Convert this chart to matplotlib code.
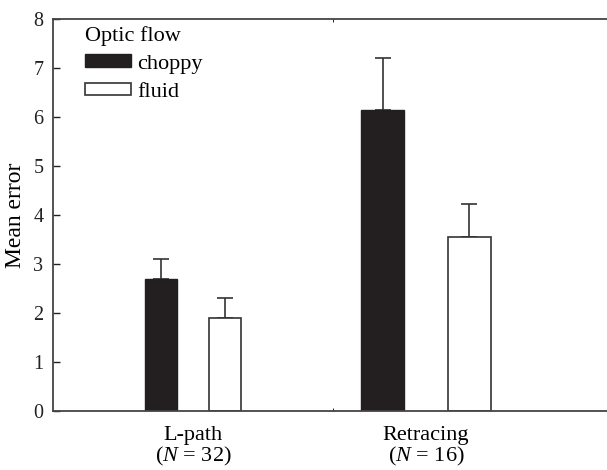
"""Mean error by task and optic flow condition (grouped bars, upper error bars)."""

import matplotlib
matplotlib.use("Agg")
import matplotlib.pyplot as plt
import numpy as np

# Data
groups = ["L-path", "Retracing"]
group_n = [32, 16]
conditions = ["choppy", "fluid"]
choppy_mean = [2.69, 6.14]
choppy_err = [0.41, 1.06]
fluid_mean = [1.89, 3.56]
fluid_err = [0.42, 0.66]

# bars in the original are drawn narrower for the first group
bar_widths = [0.137, 0.185]

plt.rcParams["font.family"] = ["Liberation Serif", "DejaVu Serif"]
plt.rcParams["mathtext.fontset"] = "custom"
plt.rcParams["mathtext.it"] = "Liberation Serif:italic"
plt.rcParams["mathtext.rm"] = "Liberation Serif"

W, H = 607, 470
fig = plt.figure(figsize=(W / 100, H / 100), dpi=100)
ax = fig.add_axes([53 / W, (H - 411) / H, (W - 53) / W, 392 / H])

bar_color = "#231f20"
line_color = "#333333"
x = np.arange(len(groups))
widths = np.array(bar_widths)

ax.bar(x - widths, choppy_mean, width=widths, color=bar_color,
       edgecolor=bar_color, linewidth=1.0, label=conditions[0], zorder=2)
ax.bar(x + widths, fluid_mean, width=widths, color="white",
       edgecolor=line_color, linewidth=1.2, label=conditions[1], zorder=2)

err_kw = dict(fmt="none", ecolor=line_color, elinewidth=1.2, capsize=6,
              capthick=1.2, zorder=1)
ax.errorbar(x - widths, choppy_mean, yerr=[np.zeros(2), choppy_err], **err_kw)
ax.errorbar(x + widths, fluid_mean, yerr=[np.zeros(2), fluid_err], **err_kw)

ax.set_xlim(-0.601, 1.777)
ax.set_ylim(0, 8)
ax.set_yticks(range(0, 9))
ax.tick_params(axis="y", direction="in", length=5, width=1, labelsize=14.5,
               pad=7, colors="#222222")
ax.set_xticks(x)
ax.set_xticklabels([f"{g}\n($N$ = {n})" for g, n in zip(groups, group_n)],
                   fontsize=16, linespacing=0.98)
ax.tick_params(axis="x", length=0, pad=11)
ax.set_xticks([0.60], minor=True)
ax.tick_params(axis="x", which="minor", direction="in", length=2,
               top=True, bottom=True)

for side in ("top", "bottom", "left"):
    ax.spines[side].set_color("#444444")
    ax.spines[side].set_linewidth(1.3)
ax.spines["right"].set_visible(False)

ax.set_ylabel("Mean error", fontsize=17, labelpad=5)

leg = ax.legend(title="Optic flow", loc="upper left", bbox_to_anchor=(0.037, 1.01),
                frameon=False, fontsize=16, title_fontsize=16,
                handlelength=2.1, handleheight=0.5, handletextpad=0.27,
                labelspacing=0.4, borderaxespad=0.1)
leg._legend_box.align = "left"
leg._legend_box.sep = 6

fig.savefig("out.png", dpi=100)
